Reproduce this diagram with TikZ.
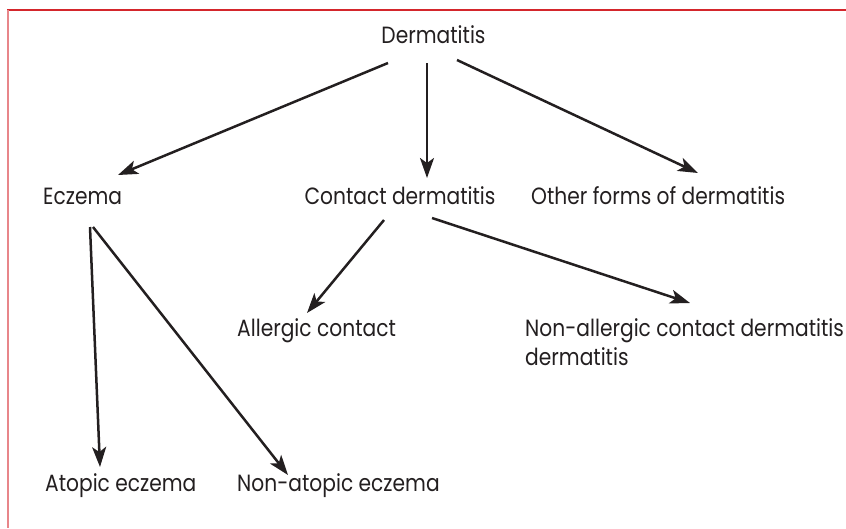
\documentclass[tikz,border=0pt]{standalone}
\usepackage{fontspec}
\setmainfont[FakeStretch=0.86]{Poppins}
\usepackage{tikz}
\usetikzlibrary{arrows.meta}
\definecolor{ink}{HTML}{231F20}
\definecolor{edge}{HTML}{D4262C}
\definecolor{edgesoft}{HTML}{E8868A}

\begin{document}
\begin{tikzpicture}[x=1pt, y=-1pt,
  % every label is plain text; the arrows get their ends from the text baselines
  term/.style = {font=\fontsize{23.5}{29}\selectfont, text=ink, inner sep=0pt},
  hop/.style  = {-{Stealth[length=20pt, width=14pt, inset=5pt]}, line width=2.5pt, draw=ink},
]
\useasboundingbox (0,0) rectangle (846,528);

% ------------------------------------------------------------------ frame --
\draw[edge, line width=2.5pt] (7,10) -- (846,10);
\draw[edgesoft, line width=2.5pt] (8,10) -- (8,528);

% ------------------------------------------------------------------- root --
\node[term, anchor=base] (derm) at (433.5,43) {Dermatitis};

% -------------------------------------------------------------- first row --
\node[term, anchor=base west] (ecz)   at (43,204)  {Eczema};
\node[term, anchor=base]      (cont)  at (400,204) {Contact dermatitis};
\node[term, anchor=base west] (other) at (531,204) {Other forms of dermatitis};

% ------------------------------------------------------------- second row --
% a two-line node sits on the baseline of its last line
\node[term, anchor=base west] (allerg)  at (237,336) {Allergic contact};
\node[term, anchor=base west, align=left] (nonall) at (525,365)
  {Non-allergic contact dermatitis\\dermatitis};

% -------------------------------------------------------------- last row --
\node[term, anchor=base west] (atopic)  at (45,491)  {Atopic eczema};
\node[term, anchor=base west] (nonatop) at (237,491) {Non-atopic eczema};

% ------------------------------------------------------------------ arrows --
\draw[hop] ([xshift=-45.5pt, yshift=-20pt]derm.base) -- ([xshift=75pt, yshift=29pt]ecz.base west);
\draw[hop] ([xshift=-6.5pt, yshift=-20pt]derm.base)  -- ([xshift=27pt, yshift=26pt]cont.base);
\draw[hop] ([xshift=23.5pt, yshift=-17pt]derm.base)  -- ([xshift=167pt, yshift=31pt]other.base west);
\draw[hop] ([xshift=-16pt, yshift=-16pt]cont.base)   -- ([xshift=70pt, yshift=23pt]allerg.base west);
\draw[hop] ([xshift=32pt, yshift=-14pt]cont.base)    -- ([xshift=165pt, yshift=62pt]nonall.base west);
\draw[hop] ([xshift=47pt, yshift=-23pt]ecz.base west) -- ([xshift=55pt, yshift=24pt]atopic.base west);
\draw[hop] ([xshift=50pt, yshift=-23pt]ecz.base west) -- ([xshift=51pt, yshift=16pt]nonatop.base west);

\end{tikzpicture}
\end{document}
